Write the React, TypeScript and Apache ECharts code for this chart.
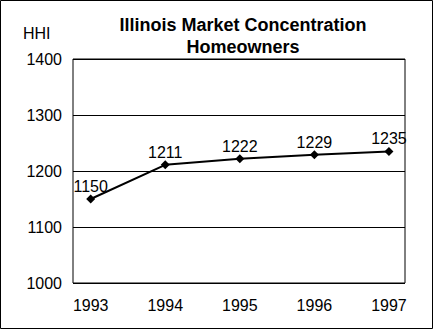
import React, { useEffect, useRef } from "react";
import * as echarts from "echarts";

const years = [1993, 1994, 1995, 1996, 1997];
const hhiValues = [1150, 1211, 1222, 1229, 1235];
const yTicks = [1000, 1100, 1200, 1300, 1400];

export default function App() {
  const ref = useRef<HTMLDivElement>(null);
  useEffect(() => {
    if (!ref.current) return;
    const chart = echarts.init(ref.current, null, { renderer: "svg" });
    const font = "Liberation Sans, Arial, sans-serif";
    chart.setOption({
      animation: false,
      backgroundColor: "#ffffff",
      textStyle: { fontFamily: font },
      title: {
        text: "Illinois Market Concentration\nHomeowners",
        left: 238,
        top: 9,
        textAlign: "center",
        textStyle: { fontSize: 18, fontWeight: "bold", color: "#000", lineHeight: 22, fontFamily: font },
      },
      graphic: [
        {
          type: "rect",
          shape: { x: 0.5, y: 0.5, width: 432, height: 328 },
          style: { fill: "none", stroke: "#000", lineWidth: 1 },
          silent: true,
        },
        {
          type: "text",
          x: 23,
          y: 25,
          style: { text: "HHI", fontSize: 16, fill: "#000", fontFamily: font },
        },
      ],
      grid: {
        left: 73,
        top: 59,
        width: 332,
        height: 224,
        show: true,
        borderColor: "#000",
        borderWidth: 1,
        backgroundColor: "transparent",
      },
      xAxis: {
        type: "value",
        min: 1992.763,
        max: 1997.215,
        splitLine: { show: false },
        axisLine: { show: false },
        axisTick: { show: false },
        axisLabel: {
          customValues: years,
          formatter: (v: number) => String(Math.round(v)),
          fontSize: 16,
          color: "#000",
          margin: 14,
          fontFamily: font,
        },
      },
      yAxis: {
        type: "value",
        min: yTicks[0],
        max: yTicks[yTicks.length - 1],
        interval: 100,
        axisLine: { show: false },
        axisTick: { show: false },
        splitLine: { show: true, lineStyle: { color: "#000", width: 1 } },
        axisLabel: {
          fontSize: 16,
          color: "#000",
          margin: 11,
          fontFamily: font,
          formatter: (v: number) => String(v),
        },
      },
      series: [
        {
          type: "line",
          data: years.map((y, i) => [y, hhiValues[i]]),
          symbol: "diamond",
          symbolSize: 9,
          lineStyle: { color: "#000", width: 2 },
          itemStyle: { color: "#000" },
          label: {
            show: true,
            position: "top",
            distance: 0,
            fontSize: 16,
            color: "#000",
            fontFamily: font,
            formatter: (p: any) => String(p.value[1]),
          },
        },
      ],
    });
    return () => chart.dispose();
  }, []);
  return (
    <div
      ref={ref}
      style={{ position: "fixed", left: 0, top: 0, width: 433, height: 329 }}
    />
  );
}
